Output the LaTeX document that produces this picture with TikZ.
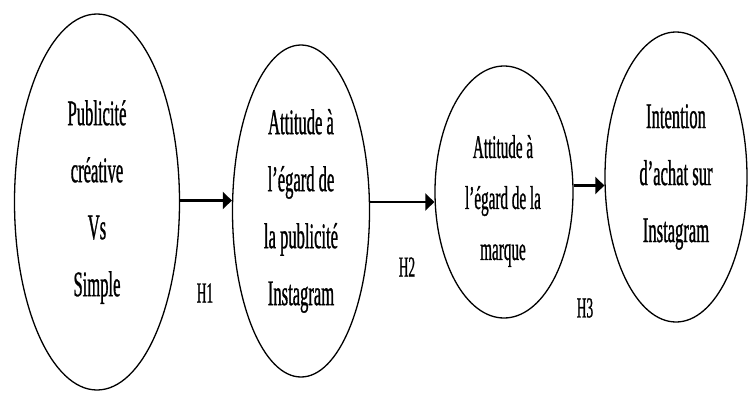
\documentclass[tikz,border=0pt]{standalone}
\usepackage{fontspec}
\setmainfont{Liberation Serif}
\newfontfamily\condfont[FakeStretch=0.46,FakeBold=0.8]{Liberation Serif}
\usetikzlibrary{shapes.geometric,arrows.meta}
\begin{document}
\begin{tikzpicture}[x=1pt,y=-1pt,
  bubble/.style={draw, line width=1.3pt, ellipse, inner sep=0pt},
  txt/.style={align=center, inner sep=0pt, font=\condfont\fontsize{36}{57}\selectfont},
  arr/.style={line width=2.5pt, -{Triangle[length=9pt,width=17pt]}},
  hyp/.style={inner sep=0pt, font=\condfont\fontsize{29}{30}\selectfont}]
\useasboundingbox (0,0) rectangle (748,394);

\node[bubble, minimum width=165pt, minimum height=376pt, txt] (e1) at (97,202)
  {Publicité\\créative\\Vs\\Simple};
\node[bubble, minimum width=137pt, minimum height=332pt, txt] (e2) at (301,211)
  {Attitude à\\l’égard de\\la publicité\\Instagram};
\node[bubble, minimum width=138pt, minimum height=252pt] (e3) at (504,192) {};
\node[txt, font=\condfont\fontsize{33}{51}\selectfont] (t3) at (503,201)
  {Attitude à\\l’égard de la\\marque};
\node[bubble, minimum width=142pt, minimum height=290pt, txt] (e4) at (676,177)
  {Intention\\d’achat sur\\Instagram};

\coordinate (y1) at (0,200.5);
\coordinate (y2) at (0,202);
\coordinate (y3) at (0,185.5);
\draw[arr] (e1.east |- y1) -- (e2.west |- y1);
\draw[arr] (e2.east |- y2) -- (e3.west |- y2);
\draw[arr] (e3.east |- y3) -- (e4.west |- y3);

\node[hyp] (h1) at (205,293) {H1};
\node[hyp] (h2) at (407,267) {H2};
\node[hyp] (h3) at (585,308) {H3};
\end{tikzpicture}
\end{document}
